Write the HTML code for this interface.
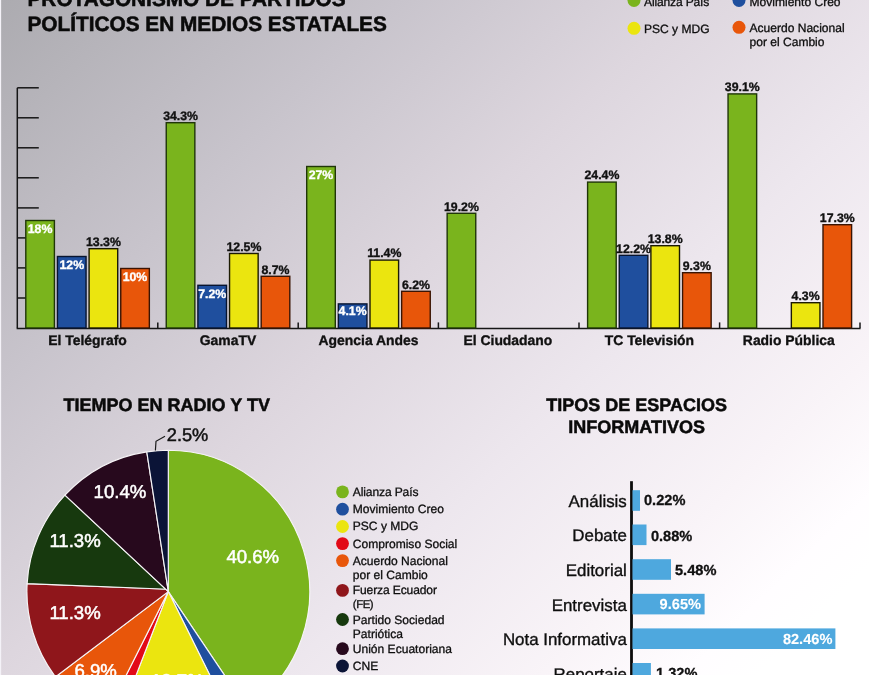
<!DOCTYPE html>
<html lang="es"><head><meta charset="utf-8"><title>Protagonismo de partidos políticos en medios estatales</title>
<style>
html,body{margin:0;padding:0;background:#fff;}
body{width:869px;height:675px;overflow:hidden;font-family:"Liberation Sans", sans-serif;}
svg{display:block;}
</style></head><body>
<svg width="869" height="675" viewBox="0 0 869 675" font-family='"Liberation Sans", sans-serif' text-rendering="geometricPrecision">
<defs>
<linearGradient id="bg" gradientUnits="userSpaceOnUse" x1="0" y1="0" x2="764.1" y2="791.3">
<stop offset="0" stop-color="#acabb0"/>
<stop offset="0.2527" stop-color="#c8c4cc"/>
<stop offset="0.4345" stop-color="#ddd6de"/>
<stop offset="0.62" stop-color="#ede7ee"/>
<stop offset="0.7836" stop-color="#f9f4f8"/>
<stop offset="0.873" stop-color="#fffdff"/>
<stop offset="0.92" stop-color="#ffffff"/>
</linearGradient>
</defs>
<rect width="869" height="675" fill="url(#bg)"/>
<rect width="1" height="675" fill="#f4f2f8"/><rect x="1" width="1" height="675" fill="#fff" fill-opacity="0.12"/>
<g font-weight="bold" font-size="20.8" fill="#0a0a0a" stroke="#0a0a0a" stroke-width="0.55">
<text x="27.5" y="5.6">PROTAGONISMO DE PARTIDOS</text>
<text x="27.5" y="30.7">POLÍTICOS EN MEDIOS ESTATALES</text>
</g>
<g font-size="12.05" fill="#0e0e0e" stroke="#0e0e0e" stroke-width="0.3">
<circle stroke="none" cx="634" cy="0.5" r="6.5" fill="#7ab41d"/><text x="644" y="5.9" letter-spacing="-0.15">Alianza País</text>
<circle stroke="none" cx="739" cy="0.5" r="6.5" fill="#1f4f9e"/><text x="749.5" y="5.9">Movimiento Creo</text>
<circle stroke="none" cx="634" cy="28.3" r="6.5" fill="#ebe50f"/><text x="644" y="32.5">PSC y MDG</text>
<circle stroke="none" cx="739" cy="27.3" r="6.5" fill="#e8560a"/><text x="749.5" y="32.3">Acuerdo Nacional</text><text x="749.5" y="45.9">por el Cambio</text>
</g>
<g stroke="#161616" stroke-width="1.5" fill="none">
<path d="M17.3 328 V87.8"/>
<path d="M17.3 298.0 H38.8"/>
<path d="M17.3 267.9 H38.8"/>
<path d="M17.3 237.9 H38.8"/>
<path d="M17.3 207.9 H38.8"/>
<path d="M17.3 177.8 H38.8"/>
<path d="M17.3 147.8 H38.8"/>
<path d="M17.3 117.8 H38.8"/>
<path d="M17.3 87.8 H38.8"/>
<path d="M16.6 328.4 H860.6"/>
<path d="M157.8 328 V322.4"/>
<path d="M298.2 328 V322.4"/>
<path d="M438.4 328 V322.4"/>
<path d="M579 328 V322.4"/>
<path d="M719.6 328 V322.4"/>
<path d="M860 328 V322.4"/>
</g>
<g><rect x="25.80" y="220.50" width="28.6" height="107.50" fill="#7ab41d" stroke="#1f3608" stroke-width="1.4"/><rect x="57.45" y="256.50" width="28.6" height="71.50" fill="#1f4f9e" stroke="#08142f" stroke-width="1.4"/><rect x="89.10" y="248.70" width="28.6" height="79.30" fill="#ebe50f" stroke="#1c1b03" stroke-width="1.4"/><rect x="120.75" y="268.50" width="28.6" height="59.50" fill="#e8560a" stroke="#3a1403" stroke-width="1.4"/><rect x="166.25" y="122.70" width="28.6" height="205.30" fill="#7ab41d" stroke="#1f3608" stroke-width="1.4"/><rect x="197.90" y="285.30" width="28.6" height="42.70" fill="#1f4f9e" stroke="#08142f" stroke-width="1.4"/><rect x="229.55" y="253.50" width="28.6" height="74.50" fill="#ebe50f" stroke="#1c1b03" stroke-width="1.4"/><rect x="261.20" y="276.30" width="28.6" height="51.70" fill="#e8560a" stroke="#3a1403" stroke-width="1.4"/><rect x="306.70" y="166.50" width="28.6" height="161.50" fill="#7ab41d" stroke="#1f3608" stroke-width="1.4"/><rect x="338.35" y="303.90" width="28.6" height="24.10" fill="#1f4f9e" stroke="#08142f" stroke-width="1.4"/><rect x="370.00" y="260.10" width="28.6" height="67.90" fill="#ebe50f" stroke="#1c1b03" stroke-width="1.4"/><rect x="401.65" y="291.30" width="28.6" height="36.70" fill="#e8560a" stroke="#3a1403" stroke-width="1.4"/><rect x="447.15" y="213.30" width="28.6" height="114.70" fill="#7ab41d" stroke="#1f3608" stroke-width="1.4"/><rect x="587.60" y="182.10" width="28.6" height="145.90" fill="#7ab41d" stroke="#1f3608" stroke-width="1.4"/><rect x="619.25" y="255.30" width="28.6" height="72.70" fill="#1f4f9e" stroke="#08142f" stroke-width="1.4"/><text x="633.5" y="252.6" fill="#111" stroke="#111" stroke-width="0.35" font-size="12.3" font-weight="bold" text-anchor="middle">12.2%</text><rect x="650.90" y="245.70" width="28.6" height="82.30" fill="#ebe50f" stroke="#1c1b03" stroke-width="1.4"/><rect x="682.55" y="272.70" width="28.6" height="55.30" fill="#e8560a" stroke="#3a1403" stroke-width="1.4"/><rect x="728.05" y="93.90" width="28.6" height="234.10" fill="#7ab41d" stroke="#1f3608" stroke-width="1.4"/><rect x="791.35" y="302.70" width="28.6" height="25.30" fill="#ebe50f" stroke="#1c1b03" stroke-width="1.4"/><rect x="823.00" y="224.70" width="28.6" height="103.30" fill="#e8560a" stroke="#3a1403" stroke-width="1.4"/></g>
<g font-size="12.3" font-weight="bold" text-anchor="middle" stroke-width="0.35"><text x="40.1" y="232.8" fill="#fff" stroke="#fff">18%</text><text x="71.8" y="268.8" fill="#fff" stroke="#fff">12%</text><text x="103.4" y="246.0" fill="#111" stroke="#111">13.3%</text><text x="135.0" y="280.8" fill="#fff" stroke="#fff">10%</text><text x="87.6" y="344.7" fill="#111" stroke="#111" font-size="13.9">El Telégrafo</text><text x="180.6" y="120.0" fill="#111" stroke="#111">34.3%</text><text x="212.2" y="297.6" fill="#fff" stroke="#fff">7.2%</text><text x="243.9" y="250.8" fill="#111" stroke="#111">12.5%</text><text x="275.5" y="273.6" fill="#111" stroke="#111">8.7%</text><text x="228.0" y="344.7" fill="#111" stroke="#111" font-size="13.9">GamaTV</text><text x="321.0" y="178.8" fill="#fff" stroke="#fff">27%</text><text x="352.6" y="314.8" fill="#fff" stroke="#fff">4.1%</text><text x="384.3" y="257.4" fill="#111" stroke="#111">11.4%</text><text x="415.9" y="288.6" fill="#111" stroke="#111">6.2%</text><text x="368.5" y="344.7" fill="#111" stroke="#111" font-size="13.9">Agencia Andes</text><text x="461.4" y="210.6" fill="#111" stroke="#111">19.2%</text><text x="507.9" y="344.7" fill="#111" stroke="#111" font-size="13.9">El Ciudadano</text><text x="601.9" y="179.4" fill="#111" stroke="#111">24.4%</text><text x="665.2" y="243.0" fill="#111" stroke="#111">13.8%</text><text x="696.8" y="270.0" fill="#111" stroke="#111">9.3%</text><text x="649.4" y="344.7" fill="#111" stroke="#111" font-size="13.9">TC Televisión</text><text x="742.3" y="91.2" fill="#111" stroke="#111">39.1%</text><text x="805.6" y="300.0" fill="#111" stroke="#111">4.3%</text><text x="837.3" y="222.0" fill="#111" stroke="#111">17.3%</text><text x="788.8" y="344.7" fill="#111" stroke="#111" font-size="13.9">Radio Pública</text></g>
<g font-weight="bold" font-size="18" fill="#0a0a0a" stroke="#0a0a0a" stroke-width="0.5" text-anchor="middle">
<text x="166.8" y="410.6">TIEMPO EN RADIO Y TV</text>
<text x="636.6" y="410.6">TIPOS DE ESPACIOS</text>
<text x="636.6" y="432.5">INFORMATIVOS</text>
</g>
<g stroke="#f6f4f6" stroke-width="1.15" stroke-linejoin="round">
<path d="M168.3 591.6 L168.3 591.6 L168.30 450.20 A141.4 141.4 0 0 1 247.19 708.95 L168.3 591.6 Z" fill="#7ab41d"/>
<path d="M168.3 591.6 L168.3 591.6 L247.19 708.95 A141.4 141.4 0 0 1 231.22 718.23 L168.3 591.6 Z" fill="#1f4f9e"/>
<path d="M168.3 591.6 L168.3 591.6 L231.22 718.23 A141.4 141.4 0 0 1 117.49 723.56 L168.3 591.6 Z" fill="#ebe50f"/>
<path d="M168.3 591.6 L168.3 591.6 L117.49 723.56 A141.4 141.4 0 0 1 104.66 717.87 L168.3 591.6 Z" fill="#e20a17"/>
<path d="M168.3 591.6 L168.3 591.6 L104.66 717.87 A141.4 141.4 0 0 1 55.49 676.85 L168.3 591.6 Z" fill="#e8560a"/>
<path d="M168.3 591.6 L168.3 591.6 L55.49 676.85 A141.4 141.4 0 0 1 27.13 583.61 L168.3 589.2 Z" fill="#8f161b"/>
<path d="M168.3 591.6 L168.3 589.2 L27.13 583.61 A141.4 141.4 0 0 1 64.92 495.13 L168.3 591.6 Z" fill="#17390e"/>
<path d="M168.3 591.6 L168.3 591.6 L64.92 495.13 A141.4 141.4 0 0 1 146.79 451.84 L168.3 591.6 Z" fill="#27091d"/>
<path d="M168.3 591.6 L168.3 591.6 L146.79 451.84 A141.4 141.4 0 0 1 168.30 450.20 L168.3 591.6 Z" fill="#0b1437"/>
</g>
<path d="M165 436.3 L156 441.3 L155.4 450.5" stroke="#1a1a1a" stroke-width="1.2" fill="none"/>
<g font-size="18.6" fill="#fff" stroke="#fff" stroke-width="0.5">
<text x="226.4" y="562.7">40.6%</text>
<text x="93.6" y="497.5">10.4%</text>
<text x="49.4" y="547.4">11.3%</text>
<text x="49.4" y="619">11.3%</text>
<text x="74.5" y="677">6.9%</text>
<text x="151" y="686.5">13.7%</text>
<text x="166.8" y="440.8" fill="#111" stroke="#111" stroke-width="0.5" font-size="18.2">2.5%</text>
</g>
<g font-size="12.05" fill="#0e0e0e" stroke="#0e0e0e" stroke-width="0.3">
<circle stroke="none" cx="342.5" cy="491.9" r="6.4" fill="#7ab41d"/>
<text x="352.8" y="495.8" letter-spacing="-0.12">Alianza País</text>
<circle stroke="none" cx="342.5" cy="509.2" r="6.4" fill="#1f4f9e"/>
<text x="352.8" y="513.2">Movimiento Creo</text>
<circle stroke="none" cx="342.5" cy="526.5" r="6.4" fill="#ebe50f"/>
<text x="352.8" y="530.1">PSC y MDG</text>
<circle stroke="none" cx="342.5" cy="543.6" r="6.4" fill="#e20a17"/>
<text x="352.8" y="547.5">Compromiso Social</text>
<circle stroke="none" cx="342.5" cy="560.6" r="6.4" fill="#e8560a"/>
<text x="352.8" y="564.5">Acuerdo Nacional</text>
<text x="352.8" y="578.8">por el Cambio</text>
<circle stroke="none" cx="342.5" cy="590.4" r="6.4" fill="#8f161b"/>
<text x="352.8" y="594.3" letter-spacing="-0.12">Fuerza Ecuador</text>
<text x="352.8" y="608.3" letter-spacing="-0.45" font-size="11.4">(FE)</text>
<circle stroke="none" cx="342.5" cy="619.5" r="6.4" fill="#17390e"/>
<text x="352.8" y="623.5">Partido Sociedad</text>
<text x="352.8" y="637.5">Patriótica</text>
<circle stroke="none" cx="342.5" cy="648.7" r="6.4" fill="#27091d"/>
<text x="352.8" y="652.7">Unión Ecuatoriana</text>
<circle stroke="none" cx="342.5" cy="666" r="6.4" fill="#0b1437"/>
<text x="352.8" y="670">CNE</text>
</g>
<rect x="630.1" y="481.2" width="2.8" height="200" fill="#0c0c0c"/>
<rect x="632.5" y="490.2" width="7.5" height="20.6" fill="#4ea8de"/>
<text x="626.8" y="506.9" font-size="16.9" text-anchor="end" fill="#0e0e0e" stroke="#0e0e0e" stroke-width="0.35">Análisis</text>
<text x="644.0" y="504.9" font-size="14.6" font-weight="bold" fill="#111" stroke="#111" stroke-width="0.3">0.22%</text>
<rect x="632.5" y="524.5" width="14.0" height="20.6" fill="#4ea8de"/>
<text x="626.8" y="541.2" font-size="16.9" text-anchor="end" fill="#0e0e0e" stroke="#0e0e0e" stroke-width="0.35">Debate</text>
<text x="650.9" y="541.0" font-size="14.6" font-weight="bold" fill="#111" stroke="#111" stroke-width="0.3">0.88%</text>
<rect x="632.5" y="559.2" width="38.5" height="20.6" fill="#4ea8de"/>
<text x="626.8" y="575.9" font-size="16.9" text-anchor="end" fill="#0e0e0e" stroke="#0e0e0e" stroke-width="0.35">Editorial</text>
<text x="675.0" y="574.5" font-size="14.6" font-weight="bold" fill="#111" stroke="#111" stroke-width="0.3">5.48%</text>
<rect x="632.5" y="593.8" width="72.1" height="20.6" fill="#4ea8de"/>
<text x="626.8" y="610.5" font-size="16.9" text-anchor="end" fill="#0e0e0e" stroke="#0e0e0e" stroke-width="0.35">Entrevista</text>
<text x="659.6" y="609.1" font-size="14.6" font-weight="bold" fill="#fff" stroke="#fff" stroke-width="0.1">9.65%</text>
<rect x="632.5" y="628.4" width="202.9" height="20.6" fill="#4ea8de"/>
<text x="626.8" y="645.1" font-size="16.9" text-anchor="end" fill="#0e0e0e" stroke="#0e0e0e" stroke-width="0.35">Nota Informativa</text>
<text x="782.9" y="643.7" font-size="14.6" font-weight="bold" fill="#fff" stroke="#fff" stroke-width="0.1">82.46%</text>
<rect x="632.5" y="663.0" width="18.4" height="20.6" fill="#4ea8de"/>
<text x="626.8" y="679.7" font-size="16.9" text-anchor="end" fill="#0e0e0e" stroke="#0e0e0e" stroke-width="0.35">Reportaje</text>
<text x="656" y="678.3" font-size="14.6" font-weight="bold" fill="#111" stroke="#111" stroke-width="0.3">1.32%</text>
</svg>
</body></html>
